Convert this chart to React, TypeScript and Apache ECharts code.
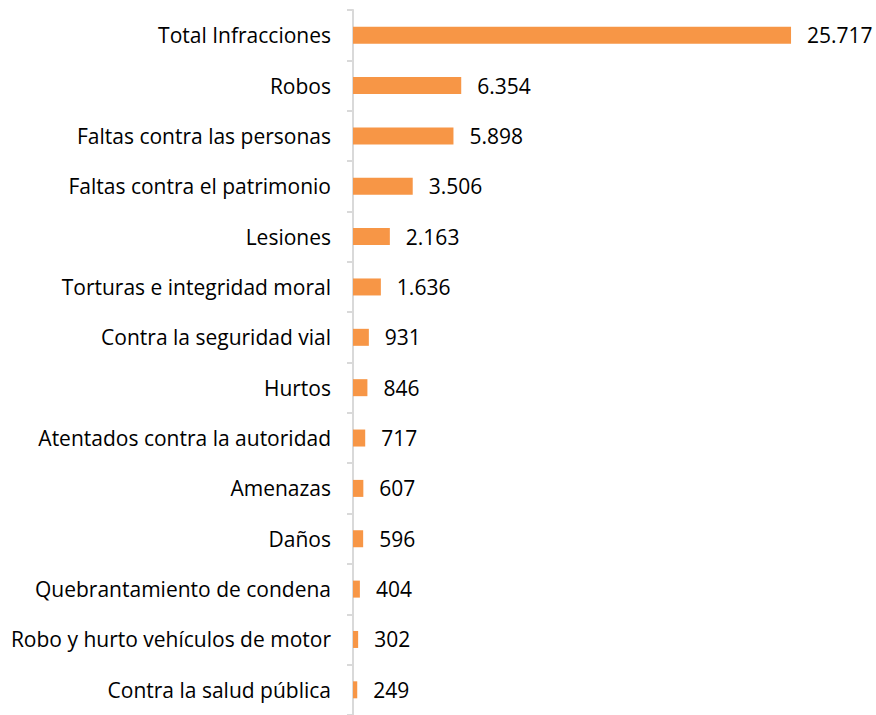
import React, { useEffect, useRef } from "react";
import * as echarts from "echarts";

const categories = [
  "Total Infracciones",
  "Robos",
  "Faltas contra las personas",
  "Faltas contra el patrimonio",
  "Lesiones",
  "Torturas e integridad moral",
  "Contra la seguridad vial",
  "Hurtos",
  "Atentados contra la autoridad",
  "Amenazas",
  "Daños",
  "Quebrantamiento de condena",
  "Robo y hurto vehículos de motor",
  "Contra la salud pública",
];
const values = [25717, 6354, 5898, 3506, 2163, 1636, 931, 846, 717, 607, 596, 404, 302, 249];

const fmt = (v: number) => String(v).replace(/\B(?=(\d{3})+(?!\d))/g, ".");

export default function App() {
  const ref = useRef<HTMLDivElement>(null);
  useEffect(() => {
    const chart = echarts.init(ref.current!, null, { renderer: "svg" });
    chart.setOption({
      animation: false,
      grid: { left: 353, right: 12, top: 10, bottom: -6, containLabel: false },
      xAxis: { type: "value", min: 0, max: 30000, show: false },
      yAxis: {
        type: "category",
        inverse: true,
        data: categories,
        axisLine: { show: true, lineStyle: { color: "#d9d9d9", width: 2 } },
        axisTick: { show: true, length: 6, lineStyle: { color: "#d9d9d9", width: 2 } },
        axisLabel: {
          margin: 22,
          color: "#000",
          fontSize: 21,
          fontFamily: "Open Sans",
        },
      },
      series: [
        {
          type: "bar",
          data: values,
          barWidth: 17,
          itemStyle: { color: "#F79646" },
          label: {
            show: true,
            position: "right",
            distance: 16,
            color: "#000",
            fontSize: 21,
            fontFamily: "Open Sans",
            formatter: (p: any) => fmt(p.value),
          },
        },
      ],
    });
    return () => chart.dispose();
  }, []);
  return <div ref={ref} style={{ width: 876, height: 715, position: "absolute", left: 0, top: 0 }} />;
}
